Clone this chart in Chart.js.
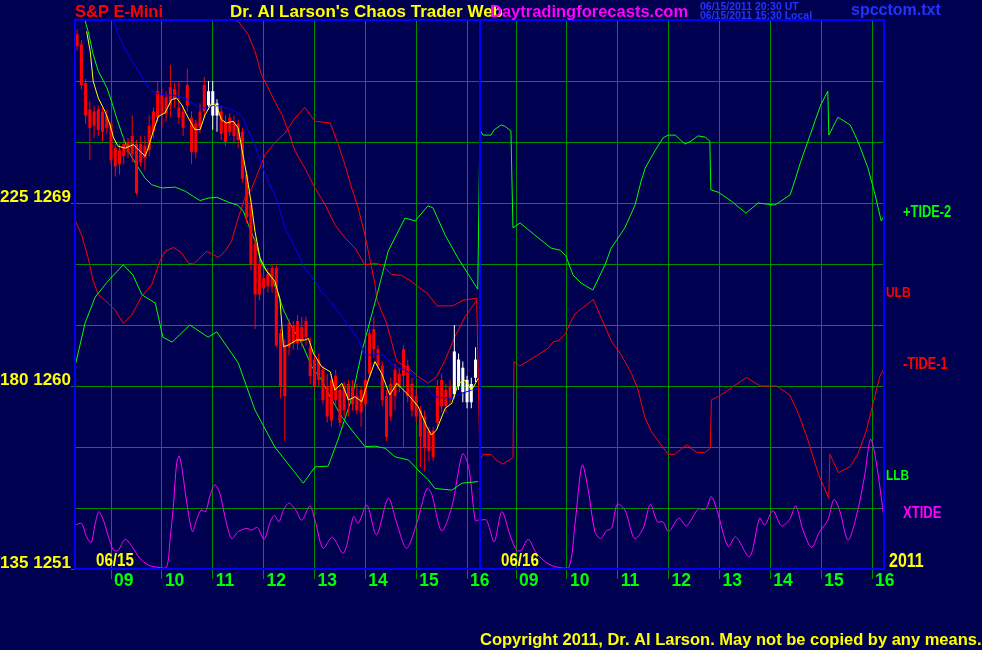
<!DOCTYPE html>
<html><head><meta charset="utf-8">
<style>html,body{margin:0;padding:0;background:#000050;}canvas{display:block;}</style>
<script src="https://cdn.jsdelivr.net/npm/chart.js@4.4.0/dist/chart.umd.min.js"></script>
</head><body>
<canvas id="c" width="982" height="650"></canvas>
<script>
// ---- time axis: each session shown from 08:17.5 for 7.963 h ----
const DAY_START = 8.2917;
const DAY_SPAN = 7.963;
const X_MAX = 15.906;
const hourTicks = [9, 10, 11, 12, 13, 14, 15, 16];
const hourLabels = ['09', '10', '11', '12', '13', '14', '15', '16'];
const dayLabels = ['06/15', '06/16'];
const priceTickValues = [1251, 1260, 1269];
const priceTickLabels = ['135 1251', '180 1260', '225 1269'];

// ---- 5-minute price bars, session 1 (first bar 08:20) ----
const BAR_FIRST = 8 + 20 / 60;
const BAR_MINUTES = 5;
const barOpen = [
1277.3,1276.8,1274.9,1273.6,1273.5,1273.6,1273.5,1273.3,1272.9,1271.7,
1271.6,1271.9,1272.0,1272.3,1271.9,1271.9,1271.8,1272.8,1273.5,1274.5,
1274.3,1274.2,1274.7,1274.6,1273.7,1273.5,1274.8,1273.2,1272.9,1273.5,
1274.8,1273.8,1273.3,1273.3,1273.5,1273.0,1273.2,1273.0,1272.9,1272.5,
1270.4,1268.9,1267.0,1266.0,1265.3,1265.5,1265.8,1265.8,1262.6,1262.0,
1263.1,1263.0,1263.2,1262.9,1263.2,1261.9,1261.3,1261.3,1260.8,1260.0,
1260.3,1260.5,1259.8,1260.0,1260.1,1260.0,1259.5,1259.8,1260.3,1262.6,
1262.8,1261.8,1261.0,1259.5,1260.1,1260.8,1260.6,1261.8,1261.0,1260.1,
1259.5,1258.8,1258.5,1257.8,1257.8,1260.0,1260.3,1259.8,1260.0,1259.6,
1260.0,1259.7,1259.2,1259.2,1260.4];
const barHigh = [
1277.55,1277.0,1275.1,1274.0,1273.8,1273.8,1273.7,1273.6,1273.0,1271.9,
1271.9,1272.3,1272.2,1273.3,1272.1,1272.3,1272.3,1273.3,1273.7,1275.0,
1274.6,1274.5,1275.8,1274.9,1275.0,1273.8,1275.6,1273.5,1273.1,1273.9,
1275.2,1275.0,1275.0,1274.1,1273.8,1273.3,1273.4,1273.3,1273.1,1272.7,
1270.6,1269.2,1267.3,1266.3,1265.6,1265.8,1266.0,1266.0,1262.8,1262.3,
1263.3,1263.2,1263.5,1263.4,1263.4,1262.4,1261.6,1261.6,1261.0,1260.6,
1260.6,1260.8,1260.0,1260.2,1260.3,1260.3,1260.1,1260.0,1260.6,1262.8,
1263.4,1262.0,1261.2,1259.8,1260.4,1261.1,1260.9,1262.0,1261.3,1260.4,
1259.8,1259.0,1258.8,1258.0,1258.0,1260.3,1260.6,1260.1,1260.3,1263.0,
1261.6,1261.2,1260.5,1260.4,1261.9];
const barLow = [
1276.5,1274.6,1272.9,1271.1,1272.2,1272.3,1272.0,1272.4,1270.9,1270.3,
1270.4,1270.9,1271.2,1271.0,1269.4,1270.8,1270.6,1271.3,1272.2,1273.0,
1272.7,1273.0,1273.2,1273.7,1272.9,1272.3,1273.5,1270.9,1271.2,1272.4,
1273.2,1273.6,1272.6,1272.5,1272.1,1271.8,1272.3,1272.0,1271.7,1270.0,
1268.0,1265.7,1262.8,1264.2,1264.5,1264.6,1264.6,1261.9,1259.4,1257.3,
1261.5,1261.8,1261.8,1261.9,1262.0,1260.1,1259.8,1260.0,1259.1,1258.2,
1258.0,1259.0,1258.0,1258.5,1258.5,1258.8,1258.6,1258.0,1258.9,1260.4,
1261.4,1260.8,1259.0,1257.3,1258.3,1258.8,1259.7,1257.0,1259.2,1258.5,
1258.2,1256.0,1255.8,1256.3,1256.3,1257.9,1258.7,1258.7,1259.1,1259.4,
1259.8,1259.2,1258.9,1258.9,1260.2];
const barClose = [
1276.7,1274.8,1273.3,1272.7,1272.8,1272.6,1272.5,1272.7,1271.1,1270.8,
1270.9,1271.3,1271.5,1271.4,1269.5,1271.0,1271.2,1271.6,1272.5,1273.2,
1273.4,1273.4,1273.8,1274.1,1273.2,1272.7,1273.8,1271.5,1271.5,1272.7,
1273.5,1274.5,1274.5,1273.9,1272.4,1272.0,1272.5,1272.3,1272.1,1270.2,
1268.3,1266.0,1264.5,1264.5,1264.8,1264.9,1264.9,1262.0,1260.0,1259.5,
1261.9,1262.1,1262.1,1262.2,1262.4,1260.5,1260.0,1260.3,1259.3,1258.5,
1258.3,1259.3,1258.2,1258.8,1259.3,1259.1,1258.8,1258.7,1259.1,1260.6,
1261.8,1261.0,1259.3,1257.5,1258.5,1259.5,1260.0,1260.5,1259.5,1258.8,
1258.5,1257.5,1257.0,1256.8,1256.5,1258.2,1259.0,1259.0,1259.4,1261.7,
1261.3,1260.9,1260.3,1260.1,1261.3];

// ---- moving averages (price units), session 1 ----
const fastMaT = [8.52,8.59,8.65,8.75,8.88,8.98,9.05,9.14,9.28,9.44,9.54,9.67,9.73,9.83,9.93,10.06,10.19,10.29,10.39,10.52,10.65,10.75,10.85,10.98,11.08,11.17,11.27,11.40,11.50,11.57,11.63,11.70,11.77,11.83,11.93,12.06,12.22,12.32,12.39,12.49,12.65,12.81,12.88,12.98,13.14,13.31,13.40,13.54,13.67,13.80,13.93,14.06,14.19,14.32,14.48,14.62,14.75,14.88,15.04,15.21,15.30,15.40,15.57,15.70,15.83,15.96,16.09,16.22];
const fastMaV = [1277.44,1276.46,1274.98,1274.16,1273.51,1272.85,1272.20,1271.79,1271.70,1271.87,1271.62,1271.30,1271.70,1272.53,1273.26,1273.43,1274.08,1274.16,1273.83,1273.18,1272.61,1272.61,1273.34,1273.92,1273.75,1273.10,1272.93,1273.02,1272.69,1271.70,1270.88,1269.90,1268.75,1267.61,1266.29,1265.64,1265.15,1264.3,1261.93,1262.02,1262.26,1262.26,1262.34,1261.61,1260.95,1260.70,1259.80,1260.13,1259.31,1259.47,1259.23,1260.29,1261.20,1260.62,1259.56,1260.13,1259.80,1259.47,1258.98,1257.99,1257.59,1257.84,1258.90,1259.15,1260.13,1260.29,1259.80,1260.37];
const slowMaT = [9.05,9.14,9.28,9.41,9.54,9.67,9.80,10.00,10.26,10.46,10.59,10.75,10.88,11.01,11.17,11.37,11.50,11.60,11.70,11.83,11.96,12.09,12.26,12.42,12.62,12.81,13.01,13.11,13.34,13.54,13.73,13.90,13.99,14.19,14.29,14.42,14.58,14.78,14.94,15.14,15.37,15.70,15.90,16.09,16.22];
const slowMaV = [1277.94,1277.28,1276.54,1275.97,1275.48,1274.90,1274.49,1274.33,1274.28,1274.16,1273.92,1273.67,1273.67,1273.80,1273.75,1273.59,1273.43,1273.18,1272.53,1271.87,1270.88,1270.07,1269.16,1267.77,1266.79,1265.80,1265.15,1264.72,1264.07,1263.41,1262.75,1262.10,1261.52,1261.52,1261.61,1261.36,1260.95,1260.79,1260.54,1260.13,1259.47,1259.39,1259.64,1259.80,1259.89];

// ---- tide / band lines (135..270 scale) ----
const ulbT = [11.37,11.50,11.70,11.83,11.96,12.09,12.22,12.36,12.49,12.62,12.81,13.01,13.21,13.40,13.60,13.80,13.99,14.19,14.32,14.52,14.71,14.91,15.11,15.21,15.41,15.72,15.92,16.20];
const ulbV = [270.0,269.7,266.4,262.3,256.5,253.3,250.0,246.7,242.6,237.7,233.6,228.7,224.6,219.7,216.4,213.9,209.8,210.2,209.8,207.4,207.2,205.7,203.7,202.9,199.7,199.7,201.1,201.6];
const llbT = [8.49,8.55,8.65,8.75,8.92,9.01,9.11,9.21,9.34,9.50,9.67,9.80,10.00,10.26,10.46,10.62,10.75,10.91,11.08,11.31,11.50,11.60,11.70,11.86,11.96,12.13,12.29,12.39,12.55,12.75,12.95,13.14,13.34,13.54,13.73,13.99,14.19,14.39,14.58,14.85,15.04,15.24,15.37,15.70,15.90,16.22];
const llbV = [269.8,267.2,261.5,257.4,253.3,250.0,245.9,242.2,237.7,234.4,231.1,229.5,228.7,228.9,227.9,226.6,225.6,226.2,226.4,225.2,224.4,223.0,219.7,214.7,209.8,207.4,202.5,198.7,194.6,190.5,184.7,181.5,176.6,172.4,169.2,165.1,165.2,164.7,162.6,161.8,159.3,156.9,154.8,154.4,156.1,156.5];
const tide2Day1T = [8.29,8.49,8.69,8.94,9.24,9.43,9.61,9.87,10.02,10.20,10.55,10.91,11.08,11.50,11.83,12.22,12.78,13.01,13.27,13.46,13.74,13.94,14.23,14.45,14.78,14.98,15.23,15.33,15.57,15.82,16.16,16.21];
const tide2Day1V = [184.7,195.5,201.9,205.8,209.8,207.3,202.4,200.4,192.0,190.8,195.0,192.0,193.3,185.7,174.1,165.0,156.1,160.1,160.3,166.7,177.3,188.9,202.4,213.2,221.3,220.6,224.3,223.8,217.1,211.5,204.8,203.8];
const tide2Day2T = [8.29,8.35,8.51,8.57,8.71,8.78,8.90,8.92,8.94,9.08,9.37,9.69,9.87,9.98,10.12,10.28,10.51,10.75,10.87,11.14,11.34,11.46,11.54,11.73,11.89,11.99,12.13,12.32,12.44,12.58,12.72,12.81,12.83,12.97,13.23,13.52,13.76,14.09,14.39,14.48,14.60,14.74,14.88,14.99,15.13,15.15,15.33,15.57,15.72,15.92,16.06,16.18,16.24];
const tide2Day2V = [243.0,241.7,241.7,243.0,244.2,243.9,242.7,230.4,218.9,220.1,217.1,213.9,213.4,212.0,207.3,205.3,203.6,209.8,213.9,218.9,224.5,230.4,233.6,237.8,241.0,241.7,241.7,239.5,240.2,241.5,241.2,240.2,228.2,227.7,225.5,222.5,225.0,224.5,227.0,230.4,235.3,240.2,245.2,249.1,252.5,241.7,246.1,244.2,240.2,233.6,227.0,220.6,221.8];
const tide1Day1T = [8.29,8.42,8.55,8.65,8.75,8.88,9.08,9.24,9.41,9.60,9.80,9.96,10.06,10.23,10.39,10.52,10.62,10.75,10.88,10.98,11.11,11.24,11.37,11.50,11.63,11.77,11.90,12.03,12.22,12.42,12.62,12.81,13.01,13.31,13.47,13.60,13.73,13.86,13.99,14.06,14.19,14.23,14.42,14.62,14.85,15.04,15.24,15.40,15.57,15.76,15.96,16.19];
const tide1Day1V = [220.9,217.2,211.5,205.8,202.5,201.1,198.7,195.4,197.5,202.0,204.9,210.7,213.1,214.1,212.7,210.2,210.0,211.5,213.1,212.5,211.6,213.1,215.6,221.3,226.2,228.7,232.8,236.9,239.8,242.2,245.9,248.5,245.1,244.7,239.3,234.4,228.7,223.8,217.2,213.1,204.9,201.1,195.4,186.0,184.4,182.3,180.7,182.3,186.4,192.1,197.0,201.1];
const tide1Day2T = [8.29,8.35,8.51,8.61,8.74,8.84,8.94,8.96,9.07,9.24,9.43,9.63,9.73,9.83,9.97,10.06,10.16,10.29,10.42,10.52,10.68,10.88,11.07,11.27,11.40,11.53,11.66,11.83,11.99,12.12,12.35,12.55,12.71,12.82,12.84,12.98,13.24,13.53,13.80,14.12,14.38,14.55,14.74,14.94,15.15,15.17,15.34,15.57,15.73,15.89,16.02,16.15,16.24];
const tide1Day2V = [161.8,163.2,163.2,161.8,160.8,161.6,162.4,186.0,184.9,186.2,187.6,189.3,190.9,191.1,192.8,195.4,197.7,199.1,200.3,201.3,196.6,190.9,187.6,183.1,179.0,172.4,168.8,165.9,163.2,163.2,165.5,163.7,163.6,164.7,176.6,177.4,179.6,182.1,180.0,180.0,177.8,173.3,166.7,158.5,152.4,163.2,158.7,160.2,163.5,169.2,175.7,182.3,184.4];
const xtideDay1T = [8.29,8.42,8.52,8.61,8.69,8.76,8.85,8.95,9.05,9.14,9.28,9.41,9.57,9.73,9.93,10.09,10.16,10.23,10.29,10.34,10.40,10.49,10.60,10.68,10.77,10.86,10.94,11.04,11.14,11.24,11.37,11.50,11.67,11.76,11.88,12.01,12.12,12.21,12.30,12.39,12.50,12.63,12.75,12.91,13.01,13.17,13.35,13.57,13.77,13.86,14.03,14.22,14.45,14.62,14.81,15.01,15.21,15.30,15.50,15.70,15.91,16.03,16.16,16.22];
const xtideDay1V = [145.8,146.2,142.9,141.5,146.2,149.1,147.0,142.9,139.6,139.6,142.3,140.5,137.6,136.0,135.4,135.4,142.1,151.2,161.0,162.8,159.3,151.2,144.2,147.0,149.5,149.1,152.8,155.7,153.6,147.9,142.5,144.2,145.0,144.6,145.2,142.3,146.2,148.2,146.6,149.5,151.2,149.5,147.0,150.5,147.0,140.1,142.8,138.9,147.9,146.2,150.7,143.4,152.4,146.2,140.1,146.2,154.8,153.6,144.4,150.3,163.3,160.2,147.0,147.0];
const xtideDay2T = [8.29,8.42,8.57,8.72,8.88,9.01,9.10,9.24,9.40,9.63,9.83,10.04,10.16,10.30,10.42,10.55,10.66,10.78,10.88,10.99,11.14,11.33,11.50,11.64,11.78,11.89,12.00,12.20,12.35,12.58,12.73,12.84,12.96,13.17,13.32,13.59,13.79,13.89,14.05,14.22,14.38,14.50,14.64,14.81,14.97,15.13,15.25,15.36,15.53,15.72,15.85,15.97,16.08,16.24];
const xtideDay2V = [147.0,147.0,141.7,149.1,143.4,139.6,139.6,142.3,138.9,136.3,135.4,135.4,146.2,160.6,154.4,144.2,142.5,144.4,145.0,150.9,149.5,142.5,145.0,150.9,146.6,146.6,144.2,147.5,145.6,149.7,149.7,152.8,149.1,140.5,142.9,138.0,147.5,145.8,149.3,145.6,147.2,150.5,144.6,140.3,144.2,147.0,152.1,149.5,142.1,149.5,157.7,166.9,161.4,147.0];

// ---- helpers ----
function dayX(t, day) { return (day === 2 ? DAY_SPAN : 0) + t - DAY_START; }
function pts(ts, vs, day) { return ts.map((t, i) => ({ x: dayX(t, day), y: vs[i] })); }
const barX = barOpen.map((_, i) => dayX(BAR_FIRST + i * BAR_MINUTES / 60, 1));
const wickData = barX.map((x, i) => ({ x, y: [barLow[i], barHigh[i]] }));
const bodyData = barX.map((x, i) => ({ x, y: [Math.min(barOpen[i], barClose[i]), Math.max(barOpen[i], barClose[i])] }));
const barColor = c => (barClose[c.dataIndex] > barOpen[c.dataIndex] ? '#ffffff' : '#ff0000');
const xTickValues = hourTicks.map(h => dayX(h, 1)).concat(hourTicks.map(h => dayX(h, 2)));

const GRID = '#008c00';
const BLUE = '#0000ff';
const SANS = '"Liberation Sans", Arial, sans-serif';

function line(data, color, axis, order, tension) {
  return { type: 'line', data, borderColor: color, borderWidth: 1, pointRadius: 0, fill: false,
           tension: tension || 0, yAxisID: axis, order };
}

const datasets = [
  line(pts(fastMaT, fastMaV, 1), '#ffff00', 'y', 0),
  line(pts(slowMaT, slowMaV, 1), '#0000ff', 'y', 1),
  { type: 'bar', data: bodyData, backgroundColor: barColor, borderWidth: 0, grouped: false, maxBarThickness: 3.4, yAxisID: 'y', order: 2 },
  { type: 'bar', data: wickData, backgroundColor: barColor, borderWidth: 0, grouped: false, maxBarThickness: 1, yAxisID: 'y', order: 3 },
  line(pts(llbT, llbV, 1), '#00ff00', 'y2', 4),
  line(pts(ulbT, ulbV, 1), '#ff0000', 'y2', 5),
  line(pts(tide2Day1T, tide2Day1V, 1).concat(pts(tide2Day2T, tide2Day2V, 2)), '#00ff00', 'y2', 6),
  line(pts(tide1Day1T, tide1Day1V, 1).concat(pts(tide1Day2T, tide1Day2V, 2)), '#ff0000', 'y2', 7),
  line(pts(xtideDay1T, xtideDay1V, 1).concat(pts(xtideDay2T, xtideDay2V, 2)), '#ff00ff', 'y2', 8, 0.3)
];

const bgPlugin = {
  id: 'bg',
  beforeDraw(chart) {
    const c = chart.ctx;
    c.save(); c.fillStyle = '#000050'; c.fillRect(0, 0, chart.width, chart.height); c.restore();
  }
};

// header / footer texts (normal width) and side labels (condensed: sx = horizontal squeeze)
const texts = [
  { t: 'S&P E-Mini', x: 75, y: 17, c: '#ff0000', s: 16.5, sx: 1 },
  { t: "Dr. Al Larson's Chaos Trader Web", x: 230, y: 17, c: '#ffff00', s: 17, sx: 1 },
  { t: 'Daytradingforecasts.com', x: 490, y: 17, c: '#ff00ff', s: 16.5, sx: 1 },
  { t: '06/15/2011 20:30 UT', x: 700, y: 10, c: '#2233ff', s: 10.5, sx: 1 },
  { t: '06/15/2011 15:30 Local', x: 700, y: 19, c: '#2233ff', s: 10.5, sx: 1 },
  { t: 'spcctom.txt', x: 851, y: 15, c: '#2233ff', s: 16, sx: 1 },
  { t: 'Copyright 2011, Dr. Al Larson. May not be copied by any means.', x: 480, y: 645, c: '#ffff00', s: 16.5, sx: 1 },
  { t: '+TIDE-2', x: 903, y: 217, c: '#00ff00', s: 16.5, sx: 0.78 },
  { t: 'ULB', x: 886, y: 297, c: '#ff0000', s: 15.5, sx: 0.77 },
  { t: '-TIDE-1', x: 903, y: 369, c: '#ff0000', s: 16.5, sx: 0.77 },
  { t: 'LLB', x: 886, y: 480, c: '#00ff00', s: 15.5, sx: 0.77 },
  { t: 'XTIDE', x: 903, y: 518, c: '#ff00ff', s: 16.5, sx: 0.79 },
  { t: '2011', x: 889, y: 567, c: '#ffff00', s: 21, sx: 0.76 }
];

function drawText(c, t, x, y, color, size, sx) {
  c.save();
  c.font = 'bold ' + size + 'px ' + SANS;
  c.fillStyle = color; c.textAlign = 'left'; c.textBaseline = 'alphabetic';
  c.translate(x, y); c.scale(sx, 1); c.fillText(t, 0, 0);
  c.restore();
}

const framePlugin = {
  id: 'frame',
  afterDraw(chart) {
    const c = chart.ctx, a = chart.chartArea, xs = chart.scales.x;
    c.save();
    c.strokeStyle = BLUE; c.lineWidth = 2;
    c.strokeRect(a.left, a.top, a.right - a.left, a.bottom - a.top);
    const sep = Math.round(xs.getPixelForValue(DAY_SPAN));
    c.beginPath(); c.moveTo(sep, a.top); c.lineTo(sep, a.bottom); c.stroke();
    c.restore();
    drawText(c, dayLabels[0], xs.getPixelForValue(0) + 21, 566, '#ffff00', 18, 0.84);
    drawText(c, dayLabels[1], xs.getPixelForValue(DAY_SPAN) + 21, 566, '#ffff00', 18, 0.84);
    texts.forEach(o => drawText(c, o.t, o.x, o.y, o.c, o.s, o.sx));
  }
};

new Chart(document.getElementById('c'), {
  type: 'line',
  data: { datasets },
  plugins: [bgPlugin, framePlugin],
  options: {
    responsive: false, animation: false, devicePixelRatio: 1,
    layout: { padding: { top: 20, right: 98, left: 0, bottom: 0 } },
    plugins: { legend: { display: false }, tooltip: { enabled: false } },
    scales: {
      x: {
        type: 'linear', min: 0, max: X_MAX, offset: false,
        afterBuildTicks: s => { s.ticks = xTickValues.map(v => ({ value: v })); },
        afterFit: s => { s.height = 81; },
        grid: { color: GRID, lineWidth: 1, drawTicks: true, tickLength: 10, tickColor: GRID, offset: false },
        border: { display: true, color: BLUE, width: 2 },
        ticks: { autoSkip: false, maxRotation: 0, minRotation: 0, align: 'start', labelOffset: 3, padding: -8,
                 color: '#00ff00', font: { family: SANS, size: 17.5, weight: 'bold' },
                 callback: (v, i) => hourLabels[i % hourLabels.length] }
      },
      y: {
        type: 'linear', position: 'left', min: 1251, max: 1278,
        afterFit: s => { s.width = 75; },
        grid: { color: GRID, lineWidth: 1, tickLength: 4,
                tickColor: c => (c.tick && priceTickValues.indexOf(c.tick.value) >= 0) ? GRID : 'rgba(0,0,0,0)' },
        border: { display: true, color: BLUE, width: 2 },
        ticks: { stepSize: 3, autoSkip: false, padding: 0, labelOffset: -6, color: '#ffff00',
                 font: { family: SANS, size: 17, weight: 'bold' },
                 callback: v => { const k = priceTickValues.indexOf(v); return k >= 0 ? priceTickLabels[k] : ''; } }
      },
      y2: { type: 'linear', display: false, min: 135, max: 270 }
    }
  }
});
</script>
</body></html>
